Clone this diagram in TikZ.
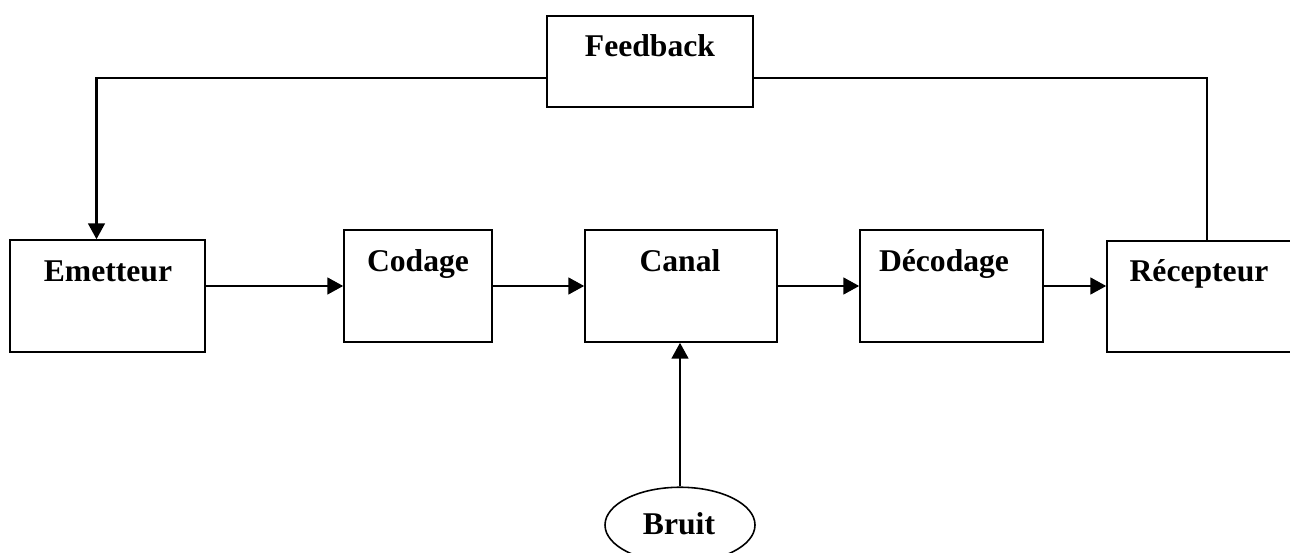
\documentclass[tikz,border=0pt]{standalone}
\usepackage{fontspec}
\setmainfont{Liberation Serif}
\usetikzlibrary{arrows.meta, positioning, shapes.geometric}

\tikzset{
    bloc/.style={draw, line width=0.9pt, minimum height=2.24cm},
    mot/.style={font=\fontsize{18}{21}\bfseries, anchor=base, inner sep=0pt},
    fleche/.style={line width=1.3pt, -{Triangle[length=9pt, width=9.5pt]}},
    liaison/.style={line width=0.9pt}
}

\begin{document}
\begin{tikzpicture}
    \useasboundingbox (0,0) rectangle (25.8,-11.06);

    % chaine de transmission
    \node[bloc, minimum width=3.9cm] (emet) at (2.15, -5.92) {};
    \node[bloc, minimum width=2.96cm] (codage) at (8.36, -5.72) {};
    \node[bloc, minimum width=3.84cm] (canal) at (13.62, -5.72) {};
    \node[bloc, minimum width=3.66cm] (decod) at (19.03, -5.72) {};
    \node[bloc, minimum width=4cm, minimum height=2.22cm] (recep) at (24.14, -5.93) {};
    \node[bloc, minimum width=4.12cm, minimum height=1.82cm] (fb) at (13.0, -1.23) {};
    \node[draw, ellipse, line width=0.9pt, minimum width=3.0cm, minimum height=1.51cm] (bruit) at (13.6, -10.5) {};

    % textes des blocs
    \node[mot] (emet-t) at (2.16, -5.64) {Emetteur};
    \node[mot] (codage-t) at (8.36, -5.44) {Codage};
    \node[mot] (canal-t) at (13.6, -5.44) {Canal};
    \node[mot] (decod-t) at (18.88, -5.44) {Décodage};
    \node[mot] (recep-t) at (23.98, -5.64) {Récepteur};
    \node[mot] (fb-t) at (13.0, -1.14) {Feedback};
    \node[mot] (bruit-t) at (13.58, -10.68) {Bruit};

    % fleches
    \draw[fleche] (emet.east |- codage.west) -- (codage.west);
    \draw[fleche] (codage.east) -- (canal.west);
    \draw[fleche] (canal.east) -- (decod.west);
    \draw[fleche] (decod.east) -- (recep.west |- decod.east);
    \draw[fleche] (bruit.north) -- (bruit.north |- canal.south);

    % retour
    \draw[liaison] ([yshift=-0.33cm]fb.east) -| (recep.north);
    \draw[fleche] ([yshift=-0.33cm]fb.west) -| ([xshift=-0.22cm]emet.north);
\end{tikzpicture}
\end{document}
